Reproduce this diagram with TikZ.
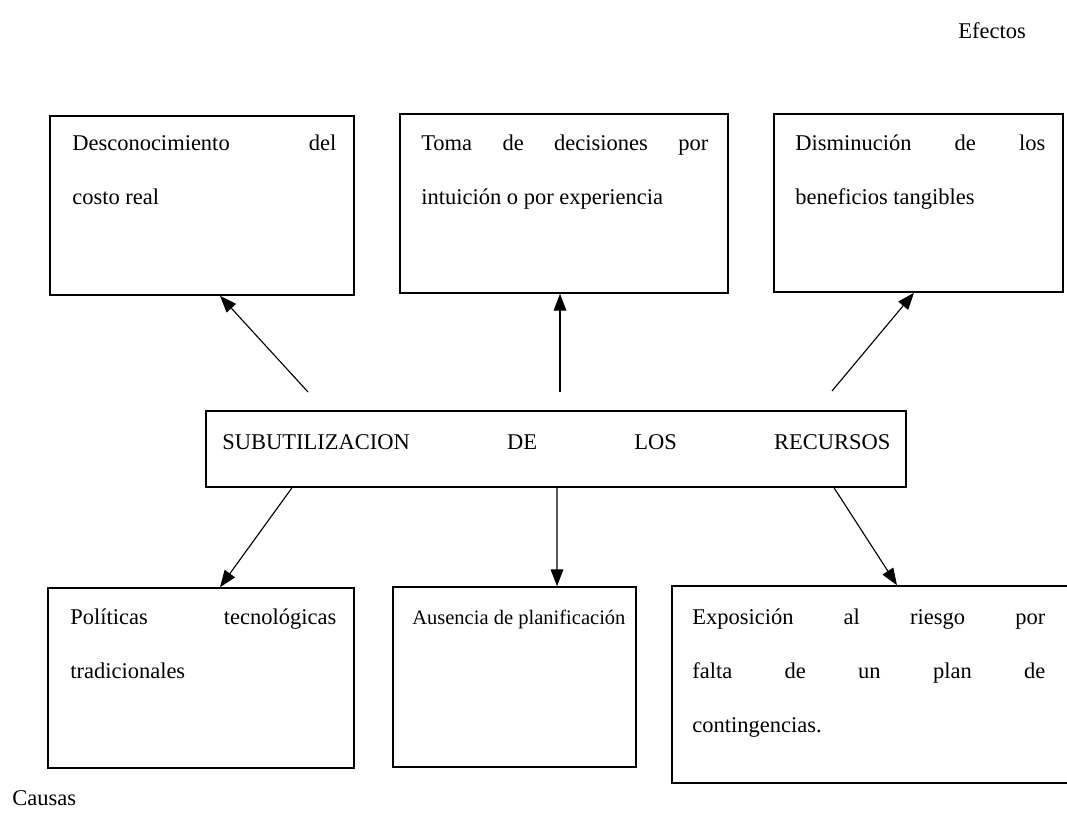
\documentclass[tikz,border=0pt]{standalone}
\usepackage{fontspec}
\setmainfont{Liberation Serif}
\usetikzlibrary{arrows.meta,fit,calc}

\begin{document}
\begin{tikzpicture}[x=0.025cm, y=-0.025cm,
  caja/.style={draw, line width=1.1pt, inner sep=0pt},
  texto/.style={anchor=north west, inner sep=0pt, align=justify, font=\fontsize{16}{38.4}\selectfont},
  rotulo/.style={anchor=base west, inner sep=0pt, font=\fontsize{16}{19}\selectfont},
  flecha/.style={line width=0.8pt, -{Triangle[length=12pt,width=9pt]}}]

\useasboundingbox (0,0) rectangle (1067,822);

% Rotulos de los extremos
\node[rotulo] (efectos) at (958,38) {Efectos};
\node[rotulo] (causas) at (12,805) {Causas};

% Cajas de efectos
\node[caja, fit={(50,116) (354,295)}] (costo) {};
\node[caja, fit={(400,114) (728,293)}] (decisiones) {};
\node[caja, fit={(774,114) (1063,292)}] (beneficios) {};

% Problema central
\node[caja, fit={(206,411) (906,487)}] (centro) {};

% Cajas de causas
\node[caja, fit={(48,588) (354,768)}] (politicas) {};
\node[caja, fit={(393,587) (636,767)}] (ausencia) {};
\node[caja, fit={(672,586) (1080,783)}] (riesgo) {};

% Textos de las cajas
\node[texto, text width=6.6cm] (costoT) at (72,135) {Desconocimiento \hfill del\\costo real};
\node[texto, text width=7.175cm] (decisionesT) at (421,135) {Toma \hfill de \hfill decisiones \hfill por\\intuición o por experiencia};
\node[texto, text width=6.25cm] (beneficiosT) at (795,135) {Disminución \hfill de \hfill los\\beneficios tangibles};
\node[texto, text width=16.7cm] (centroT) at (222,434) {SUBUTILIZACION \hfill DE \hfill LOS \hfill RECURSOS};
\node[texto, text width=6.65cm] (politicasT) at (70,609) {Políticas \hfill tecnológicas\\tradicionales};
\node[rotulo, font=\fontsize{14.6}{19}\selectfont] (ausenciaT) at (412,624) {Ausencia de planificación};
\node[texto, text width=8.825cm] (riesgoT) at (692,609) {Exposición \hfill al \hfill riesgo \hfill por\\falta \hfill de \hfill un \hfill plan \hfill de\\contingencias.};

% Extremos libres de las flechas de arriba
\coordinate (c1) at (308,392);
\coordinate (c2) at (560,392);
\coordinate (c3) at (832,391);

% Flechas hacia los efectos
\draw[flecha] (c1) -- ($(costo.south)+(18,0)$);
\draw[flecha] (c2) -- ($(decisiones.south)+(-4,0)$);
\draw[flecha] (c3) -- ($(beneficios.south)+(-4.5,0)$);

% Flechas hacia las causas
\draw[flecha] ($(centro.south)+(-264,0)$) -- ($(politicas.north)+(19,0)$);
\draw[flecha] ($(centro.south)+(1,0)$) -- ($(ausencia.north)+(42.5,0)$);
\draw[flecha] ($(centro.south)+(278,0)$) -- ($(riesgo.north)+(21,0)$);

\end{tikzpicture}
\end{document}
